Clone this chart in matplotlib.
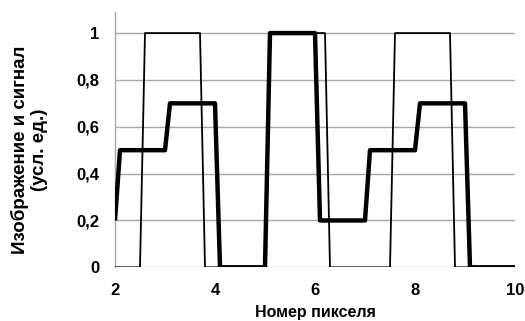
import matplotlib
matplotlib.use('Agg')
import matplotlib.pyplot as plt

plt.rcParams['font.family'] = ['Liberation Sans', 'DejaVu Sans']

# image (thin line)
img_x = [2.0, 2.5, 2.6, 3.7, 3.8, 5.0, 5.1, 6.2, 6.3, 7.5, 7.6, 8.7, 8.8, 10.0]
img_y = [0, 0, 1, 1, 0, 0, 1, 1, 0, 0, 1, 1, 0, 0]

# signal (thick line)
sig_x = [2.0, 2.1, 3.0, 3.1, 4.0, 4.1, 5.0, 5.1, 6.0, 6.1, 7.0, 7.1, 8.0, 8.1, 9.0, 9.1, 10.0]
sig_y = [0.2, 0.5, 0.5, 0.7, 0.7, 0, 0, 1, 1, 0.2, 0.2, 0.5, 0.5, 0.7, 0.7, 0, 0]

xticks = [2, 4, 6, 8, 10]
yticks = [0, 0.2, 0.4, 0.6, 0.8, 1]
ytick_labels = ['0', '0,2', '0,4', '0,6', '0,8', '1']

fig = plt.figure(figsize=(5.25, 3.21), dpi=100)
ax = fig.add_axes([115 / 525, (321 - 267.3) / 321, 400 / 525, 255.3 / 321])

grid_c = '#a6a6a6'
ax.plot(img_x, img_y, color='black', lw=1.3, solid_joinstyle='round', zorder=3)
ax.plot(sig_x, sig_y, color='black', lw=3.2, solid_joinstyle='round',
        solid_capstyle='butt', zorder=4)

ax.set_xlim(2, 10)
ax.set_ylim(0, 1.09)
ax.set_xticks(xticks)
ax.set_yticks(yticks)
ax.set_yticklabels(ytick_labels)
ax.tick_params(length=0, labelsize=12, pad=11)
for lab in ax.get_xticklabels() + ax.get_yticklabels():
    lab.set_fontweight('bold')

ax.yaxis.grid(True, color=grid_c, lw=1)
ax.set_axisbelow(True)
for s in ['top', 'right', 'bottom']:
    ax.spines[s].set_visible(False)
ax.spines['left'].set_color(grid_c)
ax.spines['left'].set_linewidth(1)

# x label placed by hand, the reference puts it very close to the bottom edge
fig.text(315 / 525, (321 - 317.5) / 321, 'Номер пикселя', ha='center',
         va='baseline', fontsize=11.5, fontweight='bold')
fig.text(29 / 525, 1 - 150 / 321, 'Изображение и сигнал\n(усл. ед.)',
         rotation=90, ha='center', va='center', multialignment='center',
         fontsize=13.5, fontweight='bold', linespacing=1.15)

fig.savefig('out.png', dpi=100)
